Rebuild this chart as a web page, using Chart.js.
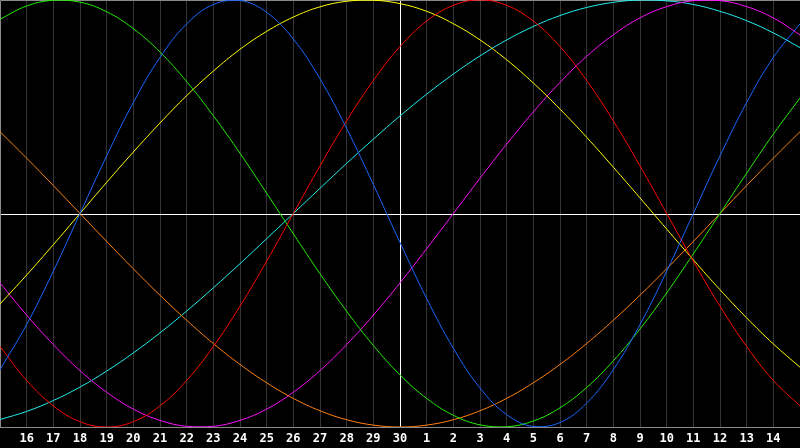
<!DOCTYPE html>
<html lang="en">
<head>
  <meta charset="UTF-8" />
  <title>Biorhythm</title>
  <script src="https://cdn.jsdelivr.net/npm/chart.js"></script>
  <style>
    html, body {
      margin: 0;
      padding: 0;
      background: #000;
    }
    #wrap {
      width: 800px;
      height: 448px;
    }
  </style>
</head>
<body>
  <div id="wrap"><canvas id="bio"></canvas></div>

  <script>
    // day numbers along the bottom (first and last sit on the edges and are not shown)
    const days = ["15","16","17","18","19","20","21","22","23","24","25","26","27","28","29","30",
                  "1","2","3","4","5","6","7","8","9","10","11","12","13","14","15"];
    const today = 15; // index of the white vertical line

    // values, -100..100, one per day
    const physical = [-73.1,-52.0,-27.0,0,27.0,52.0,73.1,88.8,97.9,99.8,94.2,81.7,63.1,39.8,13.6,-13.6,
                      -39.8,-63.1,-81.7,-94.2,-99.8,-97.9,-88.8,-73.1,-52.0,-27.0,0,27.0,52.0,73.1,88.8];
    const emotional = [-62.3,-78.2,-90.1,-97.5,-100,-97.5,-90.1,-78.2,-62.3,-43.4,-22.3,0,22.3,43.4,62.3,78.2,
                       90.1,97.5,100,97.5,90.1,78.2,62.3,43.4,22.3,0,-22.3,-43.4,-62.3,-78.2,-90.1];
    const intellectual = [91.0,97.2,99.9,99.0,94.5,86.6,75.6,61.8,45.8,28.2,9.5,-9.5,-28.2,-45.8,-61.8,-75.6,
                          -86.6,-94.5,-99.0,-99.9,-97.2,-91.0,-81.5,-69.0,-54.1,-37.2,-18.9,0,18.9,37.2,54.1];
    const aesthetic = [-42.4,-28.8,-14.6,0,14.6,28.8,42.4,55.2,66.7,76.9,85.3,92.0,96.8,99.4,99.9,98.3,
                       94.7,88.9,81.3,72.0,61.1,48.9,35.7,21.7,7.3,-7.3,-21.7,-35.7,-48.9,-61.1,-72.0];
    const awareness = [38.3,25.9,13.1,0,-13.1,-25.9,-38.3,-50.0,-60.9,-70.7,-79.3,-86.6,-92.4,-96.6,-99.1,-100,
                       -99.1,-96.6,-92.4,-86.6,-79.3,-70.7,-60.9,-50.0,-38.3,-25.9,-13.1,0,13.1,25.9,38.3];
    const intuitive = [-32.5,-47.6,-61.4,-73.6,-83.7,-91.6,-96.9,-99.7,-99.7,-96.9,-91.6,-83.7,-73.6,-61.4,-47.6,-32.5,
                       -16.5,0,16.5,32.5,47.6,61.4,73.6,83.7,91.6,96.9,99.7,99.7,96.9,91.6,83.7];
    const spiritual = [-96.5,-92.7,-87.6,-81.3,-73.8,-65.3,-55.9,-45.7,-34.8,-23.5,-11.8,0,11.8,23.5,34.8,45.7,
                       55.9,65.3,73.8,81.3,87.6,92.7,96.5,98.9,100,99.6,97.9,94.7,90.3,84.6,77.7];

    const seriesNames = ["Physical","Emotional","Intellectual","Aesthetic","Awareness","Intuitive","Spiritual"];
    const seriesData = [physical, emotional, intellectual, aesthetic, awareness, intuitive, spiritual];
    const seriesColors = ["#1866ff","#ff0000","#22ee00","#ffff00","#ff8010","#ff10ff","#22eeee"];

    // frame, zero line and today line, placed through the chart's scales
    const framePlugin = {
      id: "frame",
      beforeDatasetsDraw(chart) {
        const { ctx, chartArea: a, scales } = chart;
        const y0 = Math.round(scales.y.getPixelForValue(0)) + 0.5;
        const xt = Math.round(scales.x.getPixelForValue(today)) + 0.5;
        ctx.save();
        ctx.lineWidth = 1;
        ctx.strokeStyle = "#ffffff";
        ctx.beginPath();
        ctx.moveTo(a.left, y0);
        ctx.lineTo(a.right, y0);
        ctx.moveTo(xt, a.top);
        ctx.lineTo(xt, a.bottom);
        ctx.stroke();
        ctx.strokeStyle = "#8a8a8a";
        ctx.beginPath();
        ctx.moveTo(a.left + 0.5, a.bottom);
        ctx.lineTo(a.left + 0.5, a.top + 0.5);
        ctx.lineTo(a.right, a.top + 0.5);
        ctx.stroke();
        ctx.restore();
      }
    };

    new Chart(document.getElementById("bio"), {
      type: "line",
      data: {
        labels: days,
        datasets: seriesData.map((d, i) => ({
          label: seriesNames[i],
          data: d,
          borderColor: seriesColors[i],
          borderWidth: 1,
          pointRadius: 0,
          tension: 0.4,
          fill: false
        }))
      },
      options: {
        responsive: true,
        maintainAspectRatio: false,
        animation: false,
        layout: { padding: { left: 0, right: 0, top: 0, bottom: 3 } },
        plugins: {
          legend: { display: false },
          tooltip: { enabled: false }
        },
        scales: {
          x: {
            offset: false,
            grid: {
              color: (c) => (c.index === 0 || c.index === days.length - 1) ? "rgba(0,0,0,0)" : "#363636",
              drawTicks: true,
              tickLength: 6,
              tickColor: "rgba(0,0,0,0)"
            },
            border: { display: true, color: "#8a8a8a" },
            ticks: {
              autoSkip: false,
              maxRotation: 0,
              color: "#ffffff",
              padding: 0,
              font: { family: "DejaVu Sans Mono", size: 12, weight: "bold", lineHeight: 1.0 },
              callback: (v, i) => (i === 0 || i === days.length - 1) ? "" : days[i]
            }
          },
          y: {
            display: false,
            min: -100,
            max: 100
          }
        }
      },
      plugins: [framePlugin]
    });
  </script>
</body>
</html>
